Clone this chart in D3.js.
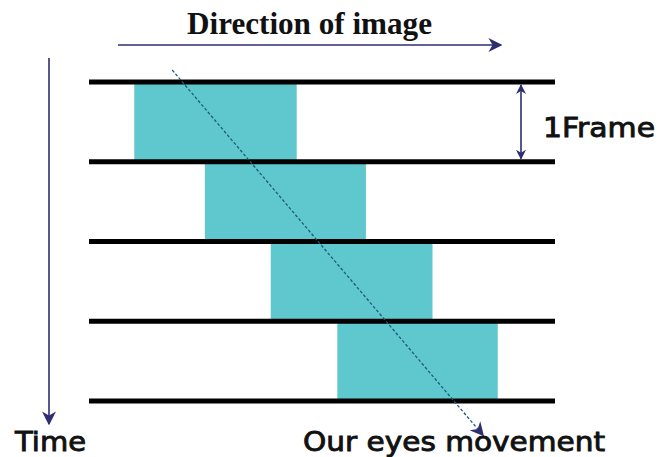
<!DOCTYPE html>
<html><head><meta charset="utf-8">
<script src="https://cdn.jsdelivr.net/npm/d3@7"></script>
<style>html,body{margin:0;padding:0;background:#fff;}svg{display:block;}</style>
</head><body>
<svg id="c" width="671" height="457"></svg>
<script>
// Data
const frameLines = [0, 1, 2, 3, 4];          // frame boundaries (time)
const frameStart = [0, 1, 2, 3];             // frame index of each image block
const blockLeft  = [0.68, 1.74, 2.73, 3.73]; // image position (units)
const blockRight = [3.12, 4.16, 5.16, 6.14];
const eyePath = [[1.25, -0.15], [5.92, 4.43]];
const labels = {title: "Direction of image", frame: "1Frame", time: "Time", eyes: "Our eyes movement"};

const svg = d3.select("#c");
const x = d3.scaleLinear().domain([0, 7]).range([89, 555]);
const y = d3.scaleLinear().domain([0, 4]).range([82, 401]);

const defs = svg.append("defs");
defs.append("marker").attr("id","ah").attr("viewBox","0 0 10 10").attr("refX",9).attr("refY",5)
  .attr("markerWidth",10).attr("markerHeight",10).attr("markerUnits","userSpaceOnUse").attr("orient","auto-start-reverse")
  .append("path").attr("d","M0,0 L10,5 L0,10 L3,5 Z").attr("fill","#2e2e72");
defs.append("marker").attr("id","ah2").attr("viewBox","0 0 10 10").attr("refX",9).attr("refY",5)
  .attr("markerWidth",14).attr("markerHeight",14).attr("markerUnits","userSpaceOnUse").attr("orient","auto")
  .append("path").attr("d","M0,0 L10,5 L0,10 L3,5 Z").attr("fill","#2e2e72");

// blocks
svg.selectAll("rect.blk").data(frameStart).join("rect").attr("class","blk")
  .attr("x", (d,i)=>x(blockLeft[i])).attr("width",(d,i)=>x(blockRight[i])-x(blockLeft[i]))
  .attr("y", d=>y(d)).attr("height", d=>y(d+1)-y(d))
  .attr("fill","#5fc8cf");

// frame lines
svg.selectAll("line.fr").data(frameLines).join("line").attr("class","fr")
  .attr("x1", x(0)).attr("x2", x(7)).attr("y1", d=>y(d)).attr("y2", d=>y(d))
  .attr("stroke","#000").attr("stroke-width",5);

// eye movement dashed line
svg.append("line")
  .attr("x1", x(eyePath[0][0])).attr("y1", y(eyePath[0][1]))
  .attr("x2", x(eyePath[1][0])).attr("y2", y(eyePath[1][1]))
  .attr("stroke","#1f5a78").attr("stroke-width",1.3).attr("stroke-dasharray","3,2")
  .attr("marker-end","url(#ah2)");

// direction arrow
svg.append("line").attr("x1",118).attr("x2",501).attr("y1",45).attr("y2",45)
  .attr("stroke","#2e2e72").attr("stroke-width",1.6).attr("marker-end","url(#ah2)");
// time arrow
svg.append("line").attr("x1",49).attr("x2",49).attr("y1",58).attr("y2",424)
  .attr("stroke","#2e2e72").attr("stroke-width",1.6).attr("marker-end","url(#ah2)");
// 1 frame arrow
svg.append("line").attr("x1",521).attr("x2",521).attr("y1",y(0)+3).attr("y2",y(1)-3)
  .attr("stroke","#2e2e72").attr("stroke-width",1.6)
  .attr("marker-start","url(#ah)").attr("marker-end","url(#ah)");

// texts
svg.append("text").attr("x",187).attr("y",34).text(labels.title)
  .attr("font-family","Liberation Serif").attr("font-weight","bold").attr("font-size",31)
  .attr("textLength",245).attr("lengthAdjust","spacingAndGlyphs").attr("fill","#111");
const sans = {family:"DejaVu Sans", size:27};
function sansText(tx, ty, str, len) {
  svg.append("text").attr("x",tx).attr("y",ty).text(str)
    .attr("font-family",sans.family).attr("font-size",sans.size)
    .attr("stroke","#111").attr("stroke-width",0.9)
    .attr("textLength",len).attr("lengthAdjust","spacingAndGlyphs").attr("fill","#111");
}
sansText(543, 137, labels.frame, 112);
sansText(15, 451, labels.time, 71);
sansText(303, 451, labels.eyes, 302);
</script>
</body></html>
